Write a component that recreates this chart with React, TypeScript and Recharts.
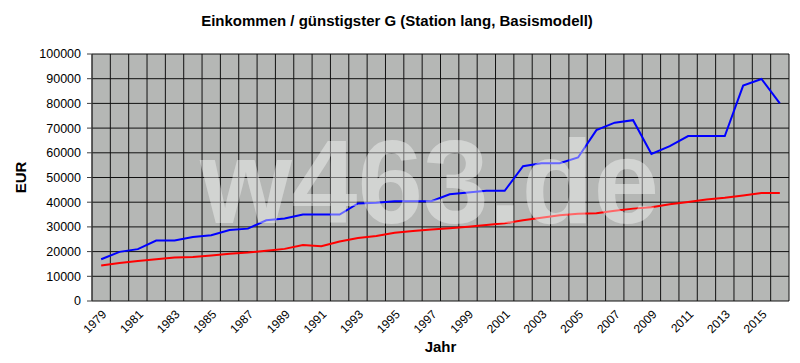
import { LineChart, Line, XAxis, YAxis, CartesianGrid, Label } from "recharts";

// Jahre 1979 - 2016
const YEARS = [
  1979, 1980, 1981, 1982, 1983, 1984, 1985, 1986, 1987, 1988, 1989, 1990, 1991,
  1992, 1993, 1994, 1995, 1996, 1997, 1998, 1999, 2000, 2001, 2002, 2003, 2004,
  2005, 2006, 2007, 2008, 2009, 2010, 2011, 2012, 2013, 2014, 2015, 2016,
];

// günstigster G (blau)
const G_PREIS = [
  16900, 19900, 21000, 24500, 24500, 25900, 26600, 28700, 29300, 32700, 33400,
  35000, 35000, 35000, 39500, 39800, 40400, 40400, 40400, 43200, 43900, 44600,
  44600, 54600, 55800, 55800, 58100, 69200, 72200, 73200, 59500, 62700, 66800,
  66800, 66800, 87200, 89900, 80000,
];

// Einkommen (rot)
const EINKOMMEN = [
  14400, 15400, 16200, 16900, 17600, 17800, 18400, 19100, 19600, 20300, 21100,
  22700, 22200, 24100, 25500, 26300, 27600, 28300, 28900, 29500, 30100, 30800,
  31500, 32700, 33700, 34700, 35300, 35500, 36500, 37400, 38000, 39200, 40100,
  41100, 41800, 42700, 43700, 43700,
];

const Y_TICKS = [0, 10000, 20000, 30000, 40000, 50000, 60000, 70000, 80000, 90000, 100000];

const data = YEARS.map((year, i) => ({
  year,
  g: G_PREIS[i],
  einkommen: EINKOMMEN[i],
}));

// Beschriftung nur jedes zweite Jahr, Gitter an den Kategoriegrenzen
const labelTicks = YEARS.filter((_, i) => i % 2 === 0);
const gridTicks = [...YEARS.map((y) => y - 0.5), YEARS[YEARS.length - 1] + 0.5];
const domain = [gridTicks[0], gridTicks[gridTicks.length - 1]];

const FONT = "'Liberation Sans', Arial, sans-serif";

export default function App() {
  return (
    <div style={{ position: "absolute", left: 0, top: 0, width: 800, height: 363, background: "#fff", fontFamily: FONT }}>
      <LineChart width={800} height={363} data={data} margin={{ top: 54, right: 11, bottom: 6, left: 0 }}>
        <CartesianGrid
          xAxisId="grid"
          fill="#B5B7B5"
          fillOpacity={1}
          stroke="#111"
          strokeWidth={1}
        />
        <XAxis
          xAxisId="grid"
          type="number"
          dataKey="year"
          domain={domain}
          ticks={gridTicks}
          interval={0}
          tick={() => <g />}
          tickSize={5}
          height={0}
          axisLine={{ stroke: "#404040" }}
          tickLine={{ stroke: "#404040" }}
        />
        <XAxis
          xAxisId="years"
          type="number"
          dataKey="year"
          domain={domain}
          ticks={labelTicks}
          interval={0}
          height={56}
          axisLine={false}
          tickLine={false}
          tickSize={0}
          tickMargin={8}
          angle={-45}
          textAnchor="end"
          tick={{ fill: "#000", fontSize: 12, fontFamily: FONT }}
        >
          <Label value="Jahr" position="insideBottom" offset={5} style={{ fontWeight: "bold", fontSize: 15, fill: "#000", fontFamily: FONT }} />
        </XAxis>
        <YAxis
          width={92}
          domain={[0, 100000]}
          ticks={Y_TICKS}
          interval={0}
          tickSize={5}
          tickMargin={6}
          axisLine={{ stroke: "#404040" }}
          tickLine={{ stroke: "#404040" }}
          tick={{ fill: "#000", fontSize: 12.5, fontFamily: FONT }}
        >
          <Label value="EUR" angle={-90} position="insideLeft" offset={21} style={{ fontWeight: "bold", fontSize: 15, fill: "#000", fontFamily: FONT, textAnchor: "middle" }} />
        </YAxis>
        <Line xAxisId="years" type="linear" dataKey="g" stroke="#0000FF" strokeWidth={2} dot={false} isAnimationActive={false} />
        <Line xAxisId="years" type="linear" dataKey="einkommen" stroke="#FF0000" strokeWidth={2} dot={false} isAnimationActive={false} />
      </LineChart>
      <svg width={800} height={363} style={{ position: "absolute", left: 0, top: 0, pointerEvents: "none" }}>
        <text x={397} y={26} textAnchor="middle" fontFamily={FONT} fontWeight="bold" fontSize={15} fill="#000">
          Einkommen / günstigster G (Station lang, Basismodell)
        </text>
        {/* Wasserzeichen */}
        <text x={200} y={223} fontFamily={FONT} fontWeight="bold" fontSize={118} fill="#fff" fillOpacity={0.4}>
          w463.de
        </text>
      </svg>
    </div>
  );
}
